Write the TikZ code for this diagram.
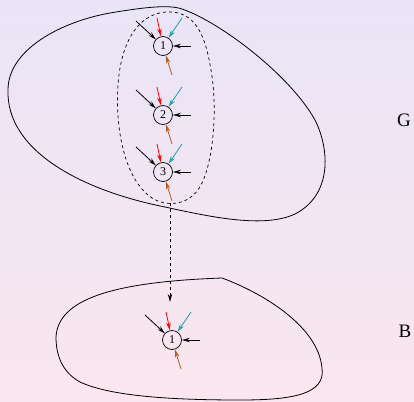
\documentclass[tikz,border=0pt]{standalone}
\usepackage{fontspec}
\setmainfont{Liberation Serif}
\usepackage{tikz}
\usetikzlibrary{calc,arrows.meta}
\definecolor{bgtop}{RGB}{233,229,247}
\definecolor{bgbottom}{RGB}{250,230,238}
\definecolor{tealarr}{RGB}{30,160,160}
\definecolor{brownarr}{RGB}{175,90,30}

\begin{document}
\begin{tikzpicture}[
  x=1pt, y=-1pt,
  vertex/.style={draw, circle, minimum size=19pt, inner sep=0pt,
    line width=0.7pt, font=\fontsize{12}{14}\selectfont},
  setlbl/.style={font=\fontsize{19}{22}\selectfont},
  blob/.style={line width=0.8pt},
  sub/.style={dashed, line width=0.7pt},
  arr/.style={-{Stealth[open, length=8pt, width=4.5pt]}, line width=0.8pt},
]
  \useasboundingbox (0,0) rectangle (414,401);
  \fill[top color=bgtop, bottom color=bgbottom] (0,0) rectangle (414,401);

  % outer sets
  \draw[blob] (8,90) .. controls (8,50) and (60,22) .. (110,13)
    .. controls (140,8) and (168,4) .. (182,9)
    .. controls (220,22) and (290,75) .. (315,120)
    .. controls (330,150) and (332,195) .. (295,214)
    .. controls (265,228) and (215,218) .. (165,207)
    .. controls (80,190) and (6,150) .. cycle;
  \draw[blob] (56,337) .. controls (58,300) and (110,282) .. (222,278)
    .. controls (260,292) and (318,325) .. (322,368)
    .. controls (326,395) and (290,400) .. (240,400)
    .. controls (170,400) and (110,396) .. (80,382)
    .. controls (62,372) and (56,355) .. cycle;

  % the subset
  \draw[sub] (172,12) .. controls (140,10) and (121,40) .. (118,85)
    .. controls (115,130) and (125,180) .. (152,198)
    .. controls (168,208) and (192,205) .. (202,183)
    .. controls (213,160) and (218,110) .. (211,70)
    .. controls (206,40) and (198,14) .. cycle;

  \node[setlbl] (G) at (404,120) {G};
  \node[setlbl] (B) at (405,331) {B};

  % vertices of G with their incoming arcs
  \foreach \n/\y in {1/46, 2/115, 3/172} {
    \node[vertex] (v\n) at (163,\y) {\n};
    \coordinate (k\n) at ($(v\n)+(-27,-25)$);
    \coordinate (r\n) at ($(v\n)+(-6,-28)$);
    \coordinate (t\n) at ($(v\n)+(19,-28)$);
    \coordinate (e\n) at ($(v\n)+(28,0)$);
    \coordinate (s\n) at ($(v\n)+(9,29)$);
    \draw[arr] (k\n) -- (v\n);
    \draw[arr, red] (r\n) -- (v\n);
    \draw[arr, tealarr] (t\n) -- (v\n);
    \draw[arr] (e\n) -- (v\n);
    \draw[arr, brownarr] (s\n) -- (v\n);
  }

  % vertex of B
  \node[vertex] (b1) at (172,340) {1};
  \coordinate (kb) at ($(b1)+(-27,-25)$);
  \coordinate (rb) at ($(b1)+(-6,-28)$);
  \coordinate (tb) at ($(b1)+(19,-28)$);
  \coordinate (eb) at ($(b1)+(28,0)$);
  \coordinate (sb) at ($(b1)+(9,29)$);
  \draw[arr] (kb) -- (b1);
  \draw[arr, red] (rb) -- (b1);
  \draw[arr, tealarr] (tb) -- (b1);
  \draw[arr] (eb) -- (b1);
  \draw[arr, brownarr] (sb) -- (b1);

  % contraction
  \coordinate (top) at (170,203);
  \coordinate (bot) at (170,302);
  \draw[arr, dashed] (top) -- (bot);
\end{tikzpicture}
\end{document}
